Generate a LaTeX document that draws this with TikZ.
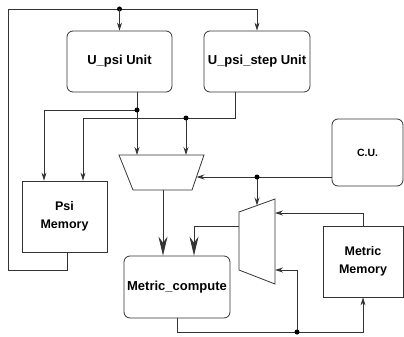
\documentclass[tikz,border=0pt]{standalone}
\usepackage{fontspec}
\setmainfont{Liberation Sans}
\usetikzlibrary{arrows.meta,calc}
\begin{document}
\begin{tikzpicture}[x=1pt,y=-1pt,
  ln/.style={draw=black!80,line width=0.8pt},
  arr/.style={ln,-{Stealth[length=8pt,width=5pt]}},
  bigarr/.style={ln,-{Stealth[length=19pt,width=9pt]}},
  unit/.style={draw=black!80,line width=0.8pt,rounded corners=6pt,inner sep=0pt,align=center,font=\bfseries\fontsize{13}{18}\selectfont},
  mem/.style={draw=black!80,line width=0.8pt,inner sep=0pt,align=center,font=\bfseries\fontsize{12.5}{18}\selectfont},
  dot/.style={fill=black,draw=none}]
\useasboundingbox (0,0) rectangle (404,337);
% boxes
\node[unit,minimum width=105pt,minimum height=61pt] (upsi) at (119.5,61.5) {U\_psi Unit};
\node[unit,minimum width=106pt,minimum height=61pt] (ustep) at (257,61.5) {U\_psi\_step Unit};
\node[mem,minimum width=85pt,minimum height=71pt] (psimem) at (64.5,216.5) {Psi\\Memory};
\node[unit,minimum width=71pt,minimum height=67pt,font=\bfseries\fontsize{10.5}{12}\selectfont] (cu) at (367.5,152.5) {C.U.};
\node[mem,minimum width=80pt,minimum height=71pt] (metmem) at (363,261.5) {Metric\\Memory};
\node[unit,minimum width=106pt,minimum height=62pt] (mc) at (177,287) {Metric\_compute};
% multiplexers
\coordinate (m1a) at (119,155); \coordinate (m1b) at (204,155);
\coordinate (m1c) at (192,190); \coordinate (m1d) at (133,190);
\draw[ln,line join=miter] (m1a) -- (m1b) -- (m1c) -- (m1d) -- cycle;
\coordinate (m2a) at (239,212); \coordinate (m2b) at (275,199);
\coordinate (m2c) at (275,284); \coordinate (m2d) at (239,270);
\draw[ln,line join=miter] (m2a) -- (m2b) -- (m2c) -- (m2d) -- cycle;
% helper coordinates
\coordinate (toprow) at (0,9);
\coordinate (fbl) at (8,270);
\coordinate (j1) at (137,110);
\coordinate (j1l) at (44,110);
\coordinate (j2) at (186,118);
\coordinate (j2l) at (83,118);
\coordinate (m1in1) at (137,155);
\coordinate (m1in2) at (186,155);
\coordinate (m1sel) at (196.5,177);
\coordinate (m1out) at (163,190);
\coordinate (j3) at (257,177);
\coordinate (m2sel) at (257,205.5);
\coordinate (m2out) at (239,226);
\coordinate (m2in1) at (275,213);
\coordinate (m2in2) at (275,270);
\coordinate (botrow) at (0,332);
\coordinate (j4) at (297,332);
% feedback from Psi Memory to the units
\draw[arr] ([xshift=2.5pt]psimem.south) |- (fbl) |- (ustep.north |- toprow) -- (ustep.north);
\fill[dot] (upsi.north |- toprow) circle (2.5pt);
\draw[arr] (upsi.north |- toprow) -- (upsi.north);
% U_psi outputs
\draw[ln] (upsi.south -| j1) -- (j1);
\draw[arr] (j1) -- (m1in1);
\draw[arr] (j1) -- (j1l) -- (j1l |- psimem.north);
\fill[dot] (j1) circle (2.5pt);
% U_psi_step outputs
\draw[arr] (ustep.south -| 235,0) |- (j2l) -- (j2l |- psimem.north);
\draw[arr] (j2) -- (m1in2);
\fill[dot] (j2) circle (2.5pt);
% control unit
\draw[arr] (cu.west |- j3) -- (m1sel);
\draw[arr] (j3) -- (m2sel);
\fill[dot] (j3) circle (2.5pt);
% mux outputs into Metric_compute
\draw[bigarr] (m1out) -- (m1out |- mc.north);
\draw[bigarr] (m2out) -| ([xshift=17pt]mc.north);
% Metric Memory to mux 2
\draw[arr] (metmem.north) |- (m2in1);
% Metric_compute output
\draw[arr] (mc.south) |- (metmem.south |- botrow) -- (metmem.south);
\draw[arr] (j4) |- (m2in2);
\fill[dot] (j4) circle (2.5pt);
\end{tikzpicture}
\end{document}
